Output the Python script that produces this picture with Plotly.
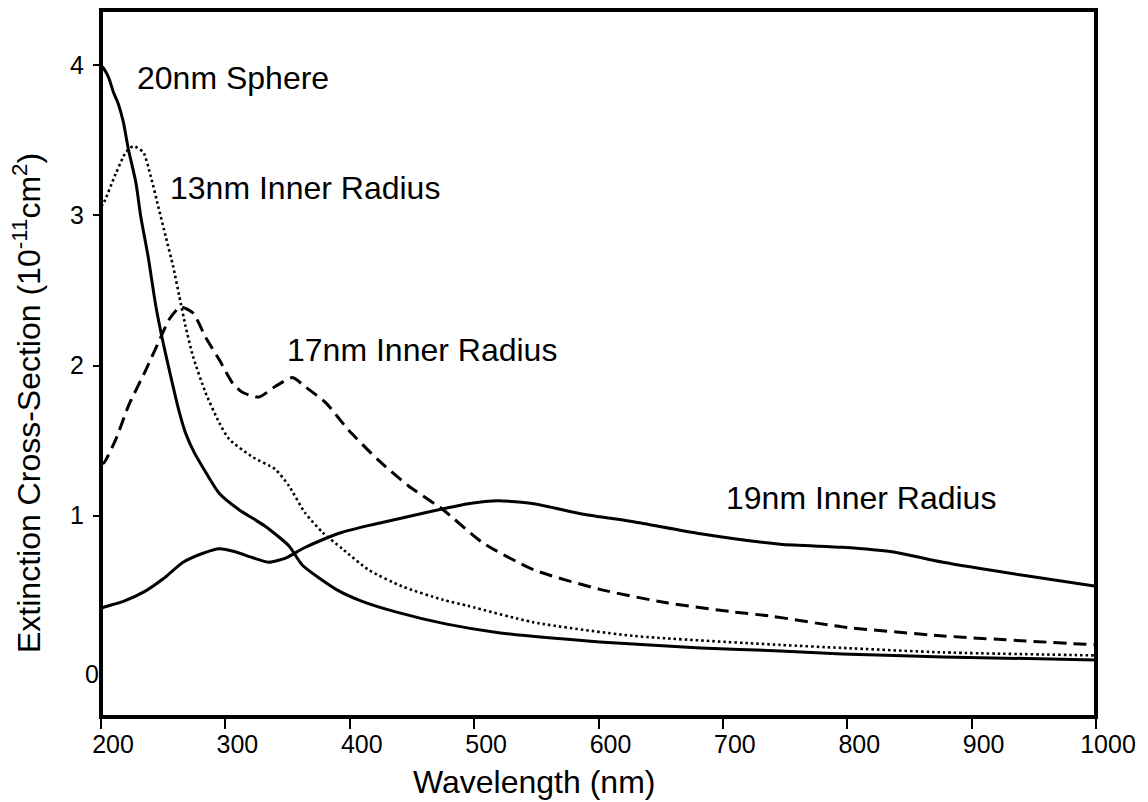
import plotly.graph_objects as go

# ---- data (wavelength in nm, extinction cross-section in 1e-11 cm^2) ----
wl_sphere = [200, 202, 206, 210, 214, 218, 222, 228, 232, 238, 244, 250, 256, 262, 268, 275,
             282, 295, 311, 332, 351, 362, 389, 410, 437, 477, 521, 601, 682, 746, 796, 877, 1000]
val_sphere = [4.00, 3.98, 3.92, 3.82, 3.74, 3.62, 3.44, 3.22, 2.99, 2.72, 2.40, 2.15, 1.93, 1.72, 1.55, 1.42,
              1.32, 1.15, 1.04, 0.93, 0.80, 0.67, 0.51, 0.43, 0.36, 0.28, 0.22, 0.16, 0.12, 0.10, 0.08, 0.06, 0.04]

wl_13 = [200, 202, 212, 220, 226, 234, 240, 246, 252, 258, 263, 268, 274, 284, 295, 303,
         322, 340, 351, 364, 378, 394, 415, 442, 475, 495, 548, 628, 746, 796, 877, 1000]
val_13 = [3.06, 3.08, 3.28, 3.42, 3.46, 3.42, 3.26, 3.06, 2.86, 2.66, 2.46, 2.26, 2.06, 1.82, 1.62, 1.51,
          1.39, 1.31, 1.20, 1.02, 0.89, 0.78, 0.64, 0.53, 0.44, 0.40, 0.29, 0.20, 0.14, 0.12, 0.09, 0.07]

wl_17 = [200, 202, 212, 222, 236, 246, 255, 264, 274, 284, 295, 306, 314, 327, 340, 354,
         364, 381, 399, 423, 447, 475, 507, 548, 601, 655, 708, 740, 796, 877, 1000]
val_17 = [1.36, 1.35, 1.51, 1.73, 1.97, 2.15, 2.31, 2.39, 2.35, 2.19, 2.04, 1.88, 1.82, 1.79, 1.86, 1.92,
          1.86, 1.75, 1.57, 1.37, 1.20, 1.04, 0.82, 0.64, 0.51, 0.42, 0.36, 0.33, 0.26, 0.20, 0.14]

wl_19 = [200, 202, 218, 236, 250, 266, 282, 295, 308, 322, 335, 349, 362, 378, 394, 418,
         450, 477, 495, 519, 548, 588, 628, 682, 746, 796, 836, 877, 944, 1000]
val_19 = [0.38, 0.39, 0.43, 0.50, 0.58, 0.69, 0.75, 0.78, 0.76, 0.72, 0.69, 0.72, 0.78, 0.84, 0.89, 0.94,
          1.00, 1.05, 1.08, 1.10, 1.08, 1.01, 0.96, 0.88, 0.81, 0.79, 0.76, 0.69, 0.60, 0.53]

x_ticks = [200, 300, 400, 500, 600, 700, 800, 900, 1000]
y_ticks = [1, 2, 3, 4]

FONT = "Liberation Sans, Arial, sans-serif"

fig = go.Figure()

def add(x, y, dash, width):
    fig.add_trace(go.Scatter(x=x, y=y, mode="lines",
                             line=dict(color="black", width=width, dash=dash,
                                       shape="spline", smoothing=0.6),
                             showlegend=False, hoverinfo="skip"))

add(wl_sphere, val_sphere, "solid", 3)
add(wl_13, val_13, "2.5px,3px", 2.6)
add(wl_17, val_17, "13px,7px", 3)
add(wl_19, val_19, "solid", 3)

# plot-area geometry in pixels
L, R, T, B = 101, 1096, 10, 717
W, H = 1148, 802

def px(xp):
    return (xp - L) / (R - L)

def py(yp):
    return 1 - (yp - T) / (B - T)

ann = []
lab_font = dict(family=FONT, size=32, color="black")
for text, xl, yc in [("20nm Sphere", 135, 77.5),
                     ("13nm Inner Radius", 168, 188),
                     ("17nm Inner Radius", 285, 350),
                     ("19nm Inner Radius", 724, 497.5)]:
    ann.append(dict(text=text, xref="paper", yref="paper", x=px(xl), y=py(yc),
                    xanchor="left", yanchor="middle", showarrow=False, font=lab_font))

ann.append(dict(text="0", xref="paper", yref="paper", x=px(91.5), y=py(674),
                xanchor="center", yanchor="middle", showarrow=False,
                font=dict(family=FONT, size=25, color="black")))
ann.append(dict(text="Extinction Cross-Section (10<sup>-11</sup>cm<sup>2</sup>)",
                xref="paper", yref="paper", x=px(27), y=py(403), textangle=-90,
                xanchor="center", yanchor="middle", showarrow=False, font=lab_font))
ann.append(dict(text="Wavelength (nm)", xref="paper", yref="paper", x=px(533.5), y=py(782),
                xanchor="center", yanchor="middle", showarrow=False, font=lab_font))

fig.update_layout(
    width=W, height=H,
    margin=dict(l=L, r=W - R, t=T, b=H - B),
    paper_bgcolor="white", plot_bgcolor="white",
    font=dict(family=FONT, color="black"),
    annotations=ann,
    shapes=[dict(type="rect", xref="paper", yref="paper", x0=0, x1=1, y0=0, y1=1,
                 line=dict(color="black", width=4), layer="above")],
    xaxis=dict(range=[200, 1000], tickvals=x_ticks, ticks="outside", ticklen=11, tickwidth=2,
               tickcolor="black", showgrid=False, zeroline=False, showline=False,
               tickfont=dict(family=FONT, size=25, color="black"), ticklabelshift=12,
               ticklabelstandoff=-6),
    yaxis=dict(range=[-0.34, 4.367], tickvals=y_ticks, ticks="outside", ticklen=7, tickwidth=2,
               tickcolor="black", showgrid=False, zeroline=False, showline=False,
               tickfont=dict(family=FONT, size=25, color="black"), ticklabelstandoff=4),
)

fig.write_html("out.html")
